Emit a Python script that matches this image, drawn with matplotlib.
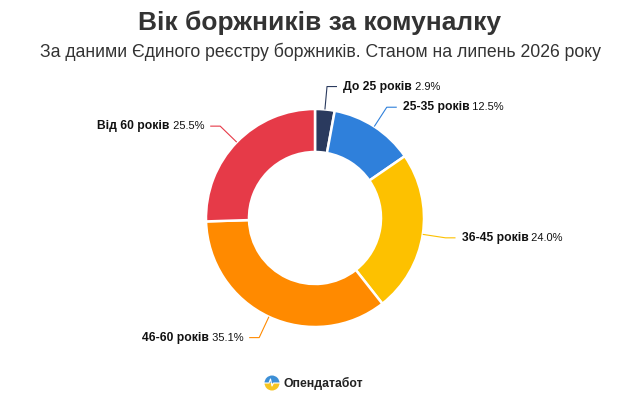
import numpy as np
import matplotlib
matplotlib.use("Agg")
import matplotlib.pyplot as plt
from matplotlib.patches import Wedge

categories = ["До 25 років", "25-35 років", "36-45 років", "46-60 років", "Від 60 років"]
values = [2.9, 12.5, 24.0, 35.1, 25.5]
colors = ["#2a3a5e", "#2f80db", "#fdc100", "#ff8a00", "#e63a48"]

title = "Вік боржників за комуналку"
subtitle = "За даними Єдиного реєстру боржників. Станом на липень 2026 року"
brand = "Опендатабот"

W, H = 640, 404
fig = plt.figure(figsize=(W / 100, H / 100), dpi=100)
ax = fig.add_axes([0, 0, 1, 1])

cx, cy = 315, H - 218
R = 109
width = 43

wedges, _ = ax.pie(values, colors=colors, startangle=90, counterclock=False,
                   radius=R, center=(cx, cy), frame=True,
                   wedgeprops=dict(width=width, edgecolor="white", linewidth=1.8))
ax.set_xlim(0, W)
ax.set_ylim(0, H)
ax.set_aspect("equal")
ax.axis("off")

fig.text(0.5, 1 - 23 / H, title, ha="center", va="center", fontsize=19,
         fontweight="bold", color="#333333", family="Liberation Sans")
fig.text(0.5, 1 - 52 / H, subtitle, ha="center", va="center", fontsize=12.7,
         color="#333333", family="Liberation Sans")

renderer = fig.canvas.get_renderer()
fs_b = 8.7
fs_r = 8
for w, cat, val, col in zip(wedges, categories, values, colors):
    ang = np.deg2rad((w.theta1 + w.theta2) / 2)
    dx, dy = np.cos(ang), np.sin(ang)
    p1 = (cx + R * dx, cy + R * dy)
    p2 = (cx + (R + 23) * dx, cy + (R + 23) * dy)
    sgn = 1 if dx >= 0 else -1
    p3 = (p2[0] + sgn * 10, p2[1])
    ax.plot([p1[0], p2[0], p3[0]], [p1[1], p2[1], p3[1]], color=col, lw=0.8,
            solid_capstyle="butt")
    tx = p3[0] + sgn * 6
    pct = f" {val:.1f}%"
    if sgn > 0:
        t1 = ax.text(tx, p3[1], cat, ha="left", va="center", fontsize=fs_b,
                     fontweight="bold", color="#111111", family="Liberation Sans")
        bb = t1.get_window_extent(renderer)
        x2 = ax.transData.inverted().transform((bb.x1, 0))[0]
        ax.text(x2, p3[1], pct, ha="left", va="center", fontsize=fs_r,
                color="#111111", family="Liberation Sans")
    else:
        t2 = ax.text(tx, p3[1], pct, ha="right", va="center", fontsize=fs_r,
                     color="#111111", family="Liberation Sans")
        bb = t2.get_window_extent(renderer)
        x0 = ax.transData.inverted().transform((bb.x0, 0))[0]
        ax.text(x0, p3[1], cat, ha="right", va="center", fontsize=fs_b,
                fontweight="bold", color="#111111", family="Liberation Sans")

# brand logo
lx, ly, lr = 272, H - 383, 7.5
ax.add_patch(Wedge((lx, ly), lr, 0, 180, color="#3d8fd6", lw=0))
ax.add_patch(Wedge((lx, ly), lr, 180, 360, color="#f6c522", lw=0))
ax.plot([lx - lr, lx - 3, lx - 1.5, lx, lx + 1.5, lx + lr],
        [ly, ly, ly + 4, ly - 3, ly, ly], color="white", lw=0.8)
ax.text(lx + 12, ly, brand, ha="left", va="center", fontsize=8.8,
        color="#222222", family="Liberation Sans", fontweight="semibold")

fig.savefig("out.png", dpi=100, facecolor="white")
